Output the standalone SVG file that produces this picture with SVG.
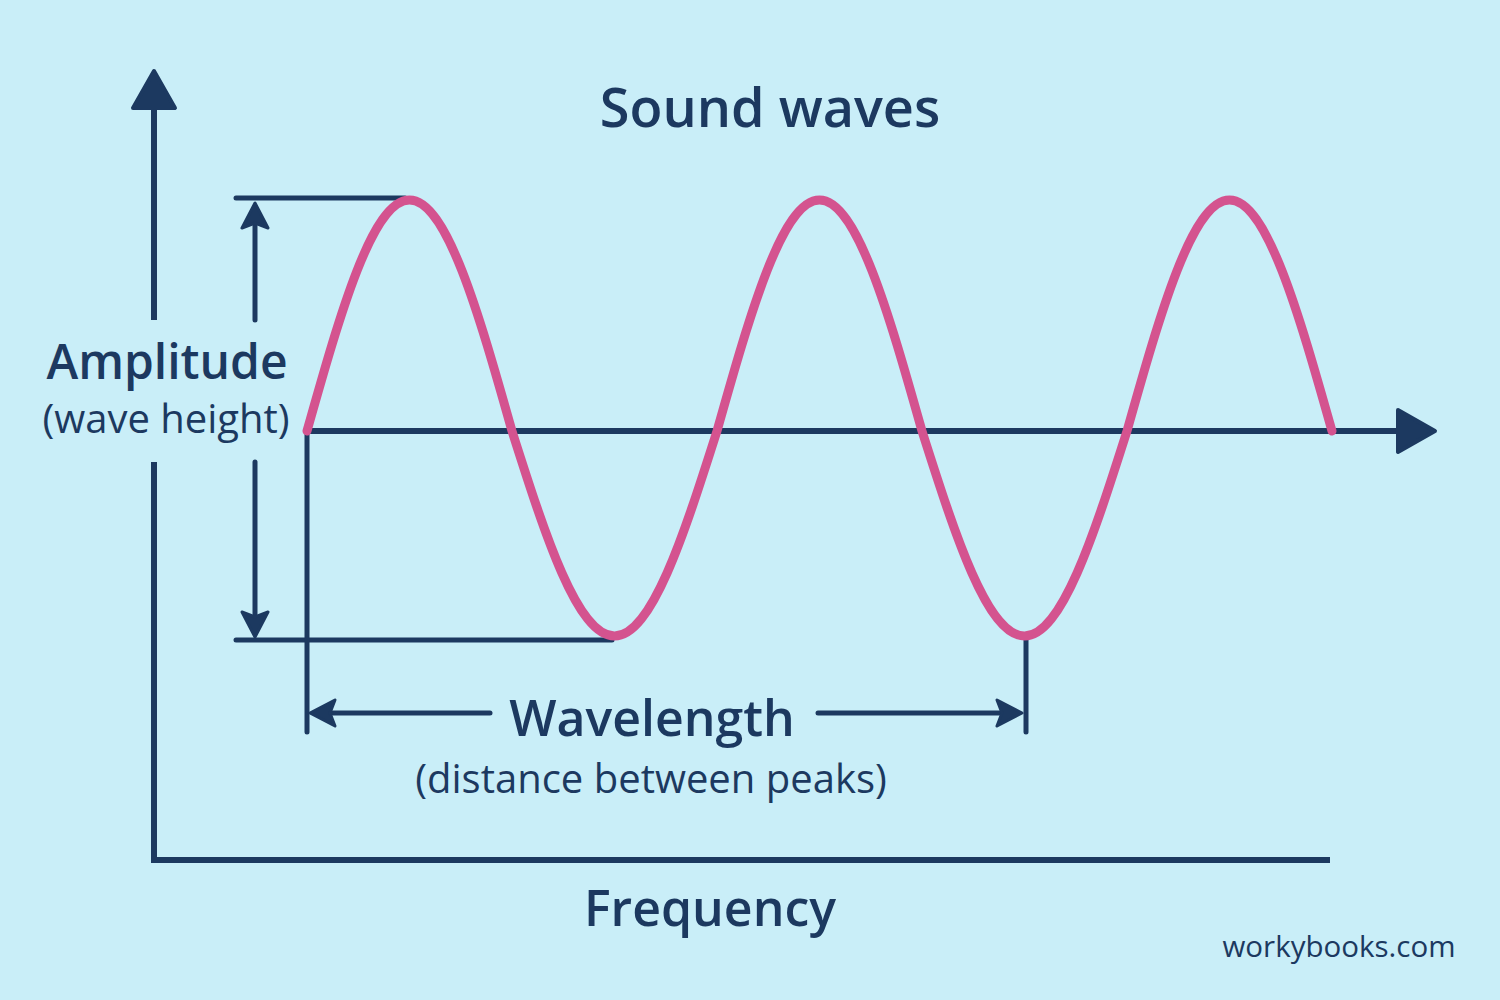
<svg xmlns="http://www.w3.org/2000/svg" width="1500" height="1000" viewBox="0 0 1500 1000">
<style>
.ln{stroke:#1c3960;stroke-width:5;fill:none;stroke-linecap:round}
.ax{stroke:#1c3960;stroke-width:6;fill:none;stroke-linecap:butt}
.t{font-family:"Open Sans","Noto Sans",sans-serif;fill:#1c3960;text-anchor:middle}
.h1{font-size:50px;font-weight:600}
.h2{font-size:40px;font-weight:500}
</style>
<defs>
<marker id="tri" markerUnits="userSpaceOnUse" orient="auto" overflow="visible" markerWidth="10" markerHeight="10" refX="0" refY="0">
<path d="M0,-21 L37,0 L0,21 Z" fill="#1c3960" stroke="#1c3960" stroke-width="4" stroke-linejoin="round"/>
</marker>
<marker id="barb" markerUnits="userSpaceOnUse" orient="auto" overflow="visible" markerWidth="10" markerHeight="10" refX="0" refY="0">
<path d="M20,0 L-5,-13 L0,0 L-5,13 Z" fill="#1c3960" stroke="#1c3960" stroke-width="3" stroke-linejoin="round"/>
</marker>
</defs>
<rect width="1500" height="1000" fill="#c9eef8"/>
<g id="connectors">
<line class="ax" x1="154" y1="320" x2="154" y2="108" marker-end="url(#tri)"/>
<path class="ax" d="M154,462 L154,860 L1330,860"/>
<line class="ax" x1="307" y1="431" x2="1398" y2="431" marker-end="url(#tri)"/>
<line class="ln" x1="236" y1="198" x2="405" y2="198"/>
<line class="ln" x1="236" y1="640" x2="612" y2="640"/>
<line class="ln" x1="255" y1="320" x2="255" y2="223" marker-end="url(#barb)"/>
<line class="ln" x1="255" y1="462" x2="255" y2="617" marker-end="url(#barb)"/>
<line class="ln" x1="307" y1="431" x2="307" y2="732" stroke-linecap="butt"/>
<line class="ln" x1="1026" y1="640" x2="1026" y2="732" stroke-linecap="butt"/>
<line class="ln" x1="490" y1="713" x2="330" y2="713" marker-end="url(#barb)"/>
<line class="ln" x1="818" y1="713" x2="1002" y2="713" marker-end="url(#barb)"/>
</g>
<g id="wave">
<path d="M307,431 C340.4,312.7 372.4,200 409.5,200 C446.6,200 478.6,312.7 512,431 C545.4,536 577.4,636 614.5,636 C651.6,636 683.6,536 717,431 C750.4,312.7 782.4,200 819.5,200 C856.6,200 888.6,312.7 922,431 C955.4,536 987.4,636 1024.5,636 C1061.6,636 1093.6,536 1127,431 C1160.4,312.7 1192.4,200 1229.5,200 C1266.6,200 1298.6,312.7 1332,431" fill="none" stroke="#d4538f" stroke-width="9" stroke-linecap="round"/>
</g>
<g id="title"><text class="t h1" x="770" y="127" style="font-size:54px">Sound waves</text></g>
<g id="amplitude">
<text class="t h1" x="167" y="379" style="font-size:48px">Amplitude</text>
<text class="t h2" x="166" y="433">(wave height)</text>
</g>
<g id="wavelength">
<text class="t h1" x="652" y="736">Wavelength</text>
<text class="t h2" x="651" y="793">(distance between peaks)</text>
</g>
<g id="frequency"><text class="t h1" x="710" y="926">Frequency</text></g>
<g id="credit"><text class="t" x="1339" y="957" style="font-size:29.5px;font-weight:500">workybooks.com</text></g>
</svg>
